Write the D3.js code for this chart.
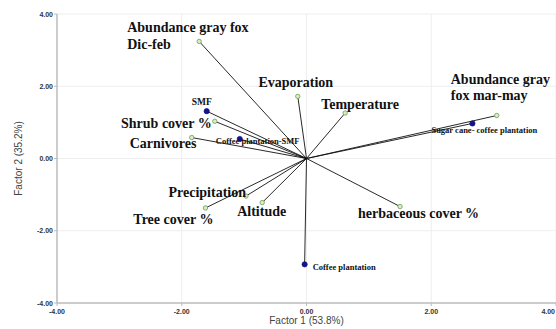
<!DOCTYPE html>
<html>
<head>
<meta charset="utf-8">
<script src="https://cdn.jsdelivr.net/npm/d3@7.9.0/dist/d3.min.js"></script>
<style>
  body { margin: 0; background: #fff; }
  svg { display: block; }
  .tick-label { font-family: "Liberation Sans", Arial, sans-serif; font-size: 7px; font-weight: bold; fill: #333; }
  .axis-title { font-family: "Liberation Sans", Arial, sans-serif; font-size: 10px; fill: #444; }
  .lbl { font-family: "Liberation Serif", "Times New Roman", serif; font-weight: bold; fill: #111; }
</style>
</head>
<body>
<svg id="chart"></svg>
<script>
// PCA biplot values
const names = [
  "Abundance gray fox|Dic-feb", "SMF", "Shrub cover %", "Carnivores",
  "Coffee plantation-SMF", "Evaporation", "Temperature",
  "Abundance gray|fox mar-may", "Sugar cane- coffee plantation",
  "Precipitation", "Tree cover %", "Altitude", "herbaceous cover %",
  "Coffee plantation"
];
const factor1 = [-1.72, -1.60, -1.47, -1.84, -1.07, -0.14, 0.62, 3.05, 2.66, -0.97, -1.62, -0.71, 1.50, -0.03];
const factor2 = [3.24, 1.31, 1.03, 0.58, 0.54, 1.72, 1.26, 1.19, 0.97, -1.04, -1.37, -1.22, -1.33, -2.93];
const kinds = ["var", "site", "var", "var", "site", "var", "var", "var", "site", "var", "var", "var", "var", "site"];
const ticks = [-4, -2, 0, 2, 4];

// label placement (dx, dy from the point, anchor, font size)
const labelLayout = {
  "Abundance gray fox|Dic-feb": [-72, -9, "start", 14],
  "SMF": [-15, -6, "start", 9.5],
  "Shrub cover %": [-3, 7, "end", 14],
  "Carnivores": [-62, 10, "start", 14],
  "Coffee plantation-SMF": [-24, 5, "start", 8.5],
  "Evaporation": [-2, -9, "middle", 14],
  "Temperature": [-24, -4, "start", 14],
  "Abundance gray|fox mar-may": [-46, -32, "start", 14],
  "Sugar cane- coffee plantation": [-41, 10, "start", 8.5],
  "Precipitation": [0, 1, "end", 14],
  "Tree cover %": [8, 16, "end", 14],
  "Altitude": [-25, 13, "start", 14],
  "herbaceous cover %": [-42, 11, "start", 14],
  "Coffee plantation": [8, 6, "start", 8.5]
};

const width = 556, height = 329;
const margin = { left: 57, right: 0, top: 14, bottom: 26 };

const svg = d3.select("#chart").attr("width", width).attr("height", height);

const x = d3.scaleLinear().domain([-4, 4]).range([margin.left, 556]);
const y = d3.scaleLinear().domain([-4, 4]).range([height - margin.bottom, margin.top]);

// grid
svg.append("g").selectAll("line").data(ticks.slice(1)).join("line")
  .attr("x1", d => x(d)).attr("x2", d => x(d))
  .attr("y1", y(4)).attr("y2", y(-4))
  .attr("stroke", "#eeeeee").attr("stroke-width", 1);
svg.append("g").selectAll("line").data(ticks.slice(1)).join("line")
  .attr("x1", x(-4)).attr("x2", x(4))
  .attr("y1", d => y(d)).attr("y2", d => y(d))
  .attr("stroke", "#eeeeee").attr("stroke-width", 1);

// axes lines
svg.append("line").attr("x1", x(-4)).attr("x2", x(-4)).attr("y1", y(4)).attr("y2", y(-4))
  .attr("stroke", "#bbb").attr("stroke-width", 1.5);
svg.append("line").attr("x1", x(-4)).attr("x2", x(4)).attr("y1", y(-4)).attr("y2", y(-4))
  .attr("stroke", "#bbb").attr("stroke-width", 1.5);

// tick marks and labels
ticks.forEach((t, i) => {
  svg.append("line").attr("x1", x(-4) - 3).attr("x2", x(-4)).attr("y1", y(t)).attr("y2", y(t))
    .attr("stroke", "#bbb");
  svg.append("text").attr("class", "tick-label")
    .attr("x", x(-4) - 4).attr("y", y(t) + 2.5).attr("text-anchor", "end")
    .text(t.toFixed(2));
  svg.append("line").attr("x1", x(t)).attr("x2", x(t)).attr("y1", y(-4)).attr("y2", y(-4) + 3)
    .attr("stroke", "#bbb");
  const last = i === ticks.length - 1;
  svg.append("text").attr("class", "tick-label")
    .attr("x", last ? width - 1 : x(t)).attr("y", y(-4) + 11)
    .attr("text-anchor", last ? "end" : "middle")
    .text(t.toFixed(2));
});

svg.append("text").attr("class", "axis-title")
  .attr("x", x(0)).attr("y", height - 5).attr("text-anchor", "middle")
  .text("Factor 1 (53.8%)");
svg.append("text").attr("class", "axis-title")
  .attr("transform", `translate(22, ${y(0)}) rotate(-90)`).attr("text-anchor", "middle")
  .text("Factor 2 (35.2%)");

const data = names.map((n, i) => ({ name: n, f1: factor1[i], f2: factor2[i], kind: kinds[i] }));

// rays from origin
svg.append("g").selectAll("line").data(data).join("line")
  .attr("x1", x(0)).attr("y1", y(0))
  .attr("x2", d => x(d.f1)).attr("y2", d => y(d.f2))
  .attr("stroke", "#111").attr("stroke-width", 0.9);

// markers
svg.append("g").selectAll("circle").data(data).join("circle")
  .attr("cx", d => x(d.f1)).attr("cy", d => y(d.f2))
  .attr("r", d => d.kind === "site" ? 2.6 : 2.2)
  .attr("fill", d => d.kind === "site" ? "#14148a" : "#d8eec0")
  .attr("stroke", d => d.kind === "site" ? "#14148a" : "#6a9a5a")
  .attr("stroke-width", 0.8);

// labels
data.forEach(d => {
  const [dx, dy, anchor, size] = labelLayout[d.name];
  const t = svg.append("text").attr("class", "lbl")
    .attr("x", x(d.f1) + dx).attr("y", y(d.f2) + dy)
    .attr("text-anchor", anchor)
    .style("font-size", size + "px");
  d.name.split("|").forEach((line, k) => {
    t.append("tspan").attr("x", x(d.f1) + dx).attr("dy", k === 0 ? 0 : size * 1.15).text(line);
  });
});
</script>
</body>
</html>
